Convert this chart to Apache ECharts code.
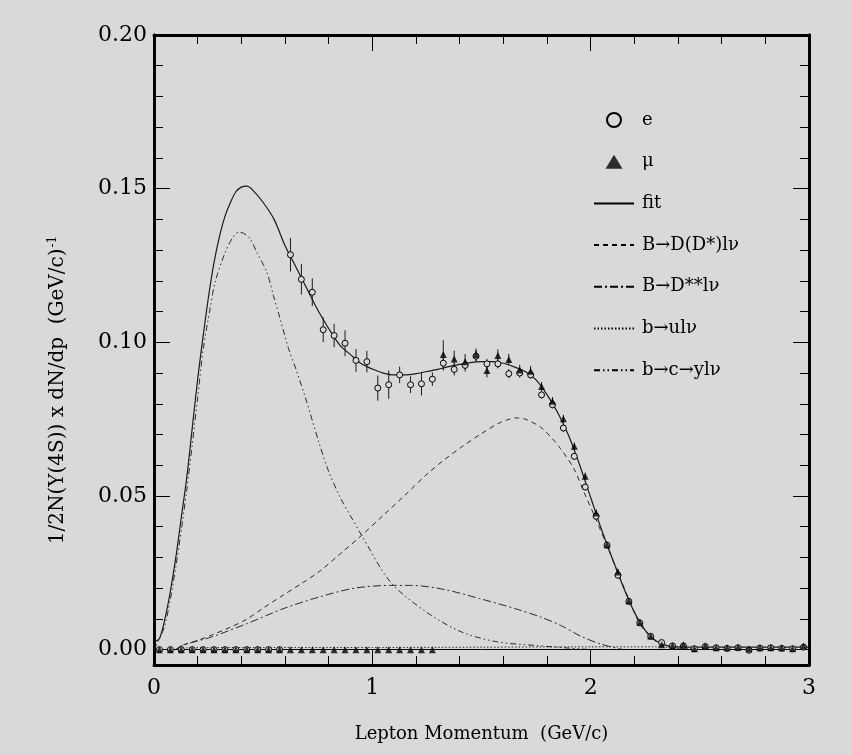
<!DOCTYPE html>
<html>
<head>
<meta charset="utf-8">
<script src="https://cdn.jsdelivr.net/npm/echarts@6/dist/echarts.min.js"></script>
<style>
  html, body { margin: 0; padding: 0; background: #d9d9d9; }
  #chart { width: 852px; height: 755px; }
</style>
</head>
<body>
<div id="chart"></div>
<script>
// Lepton momentum bin centres (GeV/c)
const pBins = [0.025,0.075,0.125,0.175,0.225,0.275,0.325,0.375,0.425,0.475,0.525,0.575,
  0.625,0.675,0.725,0.775,0.825,0.875,0.925,0.975,1.025,1.075,1.125,1.175,1.225,1.275,
  1.325,1.375,1.425,1.475,1.525,1.575,1.625,1.675,1.725,1.775,1.825,1.875,1.925,1.975,
  2.025,2.075,2.125,2.175,2.225,2.275,2.325,2.375,2.425,2.475,2.525,2.575,2.625,2.675,
  2.725,2.775,2.825,2.875,2.925,2.975];

// Electron spectrum and its errors
const eYield = [0,0,0,0,0,0,0,0,0,0,0,0,
  0.1285,0.1205,0.1163,0.1041,0.1022,0.0997,0.0941,0.0937,0.0851,0.0862,0.0894,0.0862,0.0865,0.0880,
  0.0932,0.0912,0.0925,0.0955,0.0930,0.0930,0.0898,0.0900,0.0894,
  0.0829,0.0797,0.0721,0.0629,0.0529,0.0434,0.0340,0.0242,0.0157,0.0087,0.0043,
  0.0023,0.0012,0.0012,0.0003,0.0010,0.0006,0.0004,0.0006,-0.0002,0.0005,0.0006,0.0004,0.0003,0.0008];
const eErr = [0,0,0,0,0,0,0,0,0,0,0,0,
  0.0055,0.0050,0.0045,0.0040,0.0038,0.0042,0.0037,0.0035,0.0041,0.0046,0.0027,0.0027,0.0038,0.0022,
  0.0024,0.0020,0.0020,0.0019,0.0016,0.0015,0.0015,0.0015,0.0013,
  0.0012,0.0012,0.0012,0.0011,0.0011,0.0010,0.0010,0.0009,0.0009,0.0008,0.0007,
  0.0006,0.0005,0.0005,0.0005,0.0005,0.0005,0.0005,0.0005,0.0005,0.0005,0.0005,0.0005,0.0005,0.0005];

// Muon spectrum and its errors
const muYield = [0,0,0,0,0,0,0,0,0,0,0,0,0,0,0,0,0,0,0,0,0,0,0,0,0,0,
  0.0960,0.0946,0.0937,0.0960,0.0908,0.0957,0.0944,0.0910,0.0906,
  0.0856,0.0808,0.0751,0.0662,0.0564,0.0445,0.0341,0.0253,0.0159,0.0089,0.0044,
  0.0016,0.0013,0.0016,0.0003,0.0013,0.0006,0.0006,0.0008,0.0003,0.0006,0.0006,0.0006,0.0003,0.0012];
const muErr = [0,0,0,0,0,0,0,0,0,0,0,0,0,0,0,0,0,0,0,0,0,0,0,0,0,0,
  0.0047,0.0027,0.0025,0.0020,0.0022,0.0020,0.0018,0.0017,0.0017,
  0.0015,0.0014,0.0013,0.0012,0.0012,0.0011,0.0010,0.0010,0.0009,0.0008,0.0007,
  0.0006,0.0005,0.0005,0.0005,0.0005,0.0005,0.0005,0.0005,0.0005,0.0005,0.0005,0.0005,0.0005,0.0005];

// Total fit
const fitP = [0.00,0.025,0.05,0.075,0.10,0.125,0.15,0.175,0.20,0.225,0.25,0.275,0.30,0.325,0.35,0.375,0.40,0.425,0.45,
  0.50,0.55,0.60,0.65,0.70,0.75,0.80,0.85,0.90,0.95,1.00,1.05,1.10,1.15,1.20,1.25,1.30,1.35,1.40,1.45,1.50,1.55,
  1.60,1.65,1.70,1.75,1.80,1.85,1.90,1.95,2.00,2.05,2.10,2.15,2.20,2.25,2.30,2.35,2.40,2.50,3.00];
const fitY = [0.0025,0.0036,0.010,0.019,0.030,0.043,0.056,0.072,0.088,0.102,0.115,0.126,0.1345,0.141,0.1455,0.149,0.1505,0.1508,0.1497,
  0.1455,0.140,0.1315,0.1245,0.1175,0.1105,0.1045,0.0992,0.0960,0.0930,0.0913,0.0900,0.0894,0.0894,0.0898,0.0905,0.0912,0.0921,0.0928,0.0934,0.0937,0.0937,
  0.0932,0.0920,0.0905,0.0878,0.0830,0.0770,0.0695,0.0600,0.0495,0.0390,0.0295,0.0203,0.0122,0.0063,0.0028,0.0013,0.0009,0.0008,0.0008];

// B -> D(D*) l nu
const dStarP = [0.10,0.13,0.20,0.263,0.35,0.427,0.50,0.591,0.675,0.755,0.85,0.951,1.05,1.15,1.246,1.33,1.41,1.50,1.574,1.62,1.656,
  1.70,1.771,1.82,1.862,1.923,1.969,2.023,2.077,2.13,2.183,2.229,2.283,2.336,2.40,2.45];
const dStarY = [0.0,0.0014,0.003,0.0047,0.0073,0.010,0.0135,0.0177,0.0215,0.0253,0.031,0.0372,0.0437,0.0503,0.0568,0.0618,0.0660,0.0703,0.0735,0.0748,0.0754,
  0.0750,0.0724,0.069,0.0654,0.0589,0.0513,0.0426,0.0334,0.0242,0.015,0.0079,0.0036,0.0013,0.0003,0.0];

// B -> D** l nu
const dStarStarP = [0.10,0.13,0.263,0.427,0.591,0.755,0.919,1.083,1.18,1.328,1.492,1.656,1.771,1.862,1.954,2.046,2.15];
const dStarStarY = [0.0,0.0014,0.0041,0.0085,0.0133,0.0171,0.0200,0.0209,0.0209,0.0196,0.0166,0.0133,0.0106,0.0079,0.0044,0.0018,0.0];

// b -> u l nu
const bToUP = [0.10,0.15,0.50,1.00,1.50,2.00,2.30,2.40,2.50];
const bToUY = [0.0,0.0006,0.0007,0.0007,0.0008,0.0009,0.0009,0.0006,0.0];

// b -> c -> y l nu
const cascadeP = [0.0,0.05,0.10,0.15,0.20,0.226,0.257,0.28,0.326,0.36,0.387,0.41,0.44,0.471,0.517,0.547,0.578,0.616,0.654,
  0.70,0.755,0.80,0.853,0.90,0.951,1.083,1.246,1.41,1.574,1.738,1.90,2.00];
const cascadeY = [0.0,0.008,0.027,0.052,0.082,0.098,0.111,0.1196,0.1293,0.1340,0.1358,0.1355,0.1337,0.1293,0.1228,0.1152,0.1076,0.098,0.0905,
  0.0805,0.0675,0.058,0.0495,0.0435,0.0372,0.022,0.0123,0.0057,0.0025,0.0014,0.0005,0.0];

// Axis tick positions
const yMajorTicks = [0, 0.05, 0.10, 0.15, 0.20];
const yMinorTicks = [0.01,0.02,0.03,0.04,0.06,0.07,0.08,0.09,0.11,0.12,0.13,0.14,0.16,0.17,0.18,0.19];

const BG = '#d9d9d9';
const INK = '#000';
const CURVE = '#2a2a2a';
const SERIF = 'DejaVu Serif';

// Filled upward triangle for the muon legend entry
const TRIANGLE_ICON = 'path://M0,14L8.5,0L17,14Z';

const zip = (xs, ys) => xs.map((x, i) => [x, ys[i]]);
const bars = (xs, ys, es) => xs.map((x, i) => [x, ys[i] - es[i], ys[i] + es[i]]).filter(d => d[2] > d[1]);

function renderBar(params, api) {
  const lo = api.coord([api.value(0), api.value(1)]);
  const hi = api.coord([api.value(0), api.value(2)]);
  return {
    type: 'line',
    shape: { x1: lo[0], y1: lo[1], x2: hi[0], y2: hi[1] },
    style: { stroke: '#1a1a1a', lineWidth: 1 }
  };
}

function curve(name, xs, ys, type, z) {
  return {
    name, type: 'line', data: zip(xs, ys),
    symbol: 'none', showSymbol: false, smooth: 0.3,
    lineStyle: { color: CURVE, width: 1, type: type },
    itemStyle: { color: CURVE },
    z: z || 2, silent: true
  };
}

const frameLine = { show: true, onZero: false, lineStyle: { color: INK, width: 3 } };

const yBase = (pos) => ({
  type: 'value', position: pos, min: -0.005, max: 0.2,
  axisLine: frameLine, splitLine: { show: false },
});

const lineLegend = (name) => ({ name, itemStyle: { opacity: 0 } });

const chart = echarts.init(document.getElementById('chart'), null, { renderer: 'canvas' });
chart.setOption({
  backgroundColor: BG,
  animation: false,
  grid: { left: 154, right: 43, top: 35, bottom: 90 },
  xAxis: [
    {
      type: 'value', position: 'bottom', min: 0, max: 3, interval: 1,
      axisLine: frameLine, splitLine: { show: false },
      axisTick: { inside: true, length: 16, lineStyle: { color: INK, width: 1 } },
      minorTick: { show: true, splitNumber: 5, length: 9, lineStyle: { color: INK, width: 1 } },
      axisLabel: { fontFamily: SERIF, fontSize: 22, color: INK, margin: 12 },
      name: 'Lepton Momentum  (GeV/c)', nameLocation: 'middle', nameGap: 60,
      nameTextStyle: { fontFamily: SERIF, fontSize: 18, color: INK }
    },
    {
      type: 'value', position: 'top', min: 0, max: 3, interval: 1,
      axisLine: frameLine, splitLine: { show: false },
      axisTick: { inside: true, length: 16, lineStyle: { color: INK, width: 1 } },
      minorTick: { show: true, splitNumber: 5, length: 9, lineStyle: { color: INK, width: 1 } },
      axisLabel: { show: false }
    }
  ],
  yAxis: [
    Object.assign(yBase('left'), {
      axisTick: { inside: true, length: 16, customValues: yMajorTicks, lineStyle: { color: INK, width: 1 } },
      axisLabel: {
        customValues: yMajorTicks, formatter: v => v.toFixed(2),
        fontFamily: SERIF, fontSize: 22, color: INK, margin: 7
      },
      name: '1/2N(Y(4S)) x dN/dp  (GeV/c){sup|-1}',
      nameLocation: 'middle', nameGap: 86,
      nameTextStyle: {
        fontFamily: SERIF, fontSize: 20, color: INK, padding: [0, 80, 0, 0],
        rich: { sup: { fontFamily: SERIF, fontSize: 12, color: INK, verticalAlign: 'top', padding: [0, 0, 9, 1] } }
      }
    }),
    Object.assign(yBase('left'), {
      axisTick: { inside: true, length: 9, customValues: yMinorTicks, lineStyle: { color: INK, width: 1 } },
      axisLabel: { show: false }
    }),
    Object.assign(yBase('right'), {
      axisTick: { inside: true, length: 16, customValues: yMajorTicks, lineStyle: { color: INK, width: 1 } },
      axisLabel: { show: false }
    }),
    Object.assign(yBase('right'), {
      axisTick: { inside: true, length: 9, customValues: yMinorTicks, lineStyle: { color: INK, width: 1 } },
      axisLabel: { show: false }
    })
  ],
  legend: {
    orient: 'vertical', left: 588, top: 106,
    itemWidth: 40, itemHeight: 14, itemGap: 23.7,
    data: [
      { name: 'e' },
      { name: 'μ', icon: TRIANGLE_ICON },
      lineLegend('fit'),
      lineLegend('B→D(D*)lν'),
      lineLegend('B→D**lν'),
      lineLegend('b→ulν'),
      lineLegend('b→c→ylν')
    ],
    textStyle: { fontFamily: SERIF, fontSize: 18, lineHeight: 14, color: INK, padding: [0, 0, 0, 3] },
    lineStyle: { width: 2, color: INK },
    selectedMode: false
  },
  series: [
    Object.assign(curve('fit', fitP, fitY, 'solid', 4), {
      lineStyle: { color: '#1a1a1a', width: 1.2, type: 'solid' },
      markLine: {
        silent: true, symbol: 'none', label: { show: false },
        lineStyle: { color: INK, width: 1, type: 'solid' },
        data: [{ yAxis: 0 }]
      }
    }),
    curve('B→D(D*)lν', dStarP, dStarY, [5, 4], 3),
    curve('B→D**lν', dStarStarP, dStarStarY, [8, 3, 2, 3], 3),
    curve('b→ulν', bToUP, bToUY, [1.5, 2], 3),
    curve('b→c→ylν', cascadeP, cascadeY, [6, 3, 1.5, 3, 1.5, 3], 3),
    {
      type: 'custom', data: bars(pBins, eYield, eErr), renderItem: renderBar,
      encode: { x: 0, y: [1, 2] }, z: 5, silent: true
    },
    {
      type: 'custom', data: bars(pBins, muYield, muErr), renderItem: renderBar,
      encode: { x: 0, y: [1, 2] }, z: 5, silent: true
    },
    {
      name: 'e', type: 'scatter', data: zip(pBins, eYield),
      symbol: 'circle', symbolSize: 6,
      itemStyle: { color: BG, borderColor: INK, borderWidth: 1, opacity: 1 }, z: 6, silent: true
    },
    {
      name: 'μ', type: 'scatter', data: zip(pBins, muYield),
      symbol: 'triangle', symbolSize: 7,
      itemStyle: { color: INK }, z: 7, silent: true
    }
  ]
});
</script>
</body>
</html>
